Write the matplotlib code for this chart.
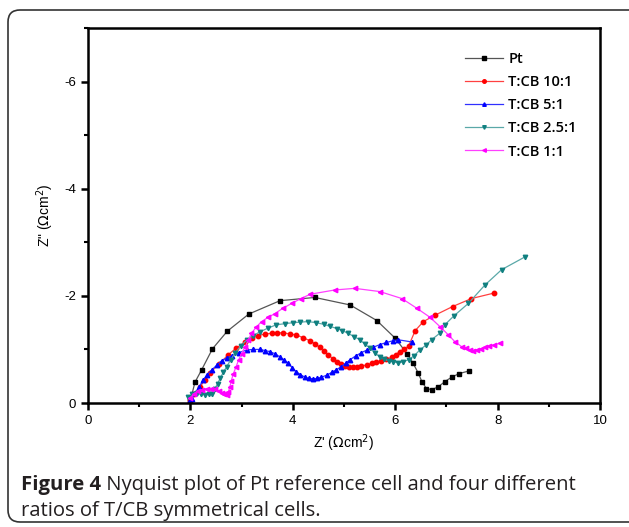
import matplotlib
matplotlib.use('Agg')
import matplotlib.pyplot as plt
from matplotlib.patches import FancyBboxPatch
from matplotlib.ticker import MultipleLocator

# --- data (Z' and -Z'' in Ohm cm^2) ---
pt_x = [2.0, 2.09, 2.22, 2.43, 2.72, 3.14, 3.75, 4.43, 5.12, 5.64, 6.0, 6.24, 6.35,
        6.45, 6.52, 6.61, 6.71, 6.84, 6.97, 7.10, 7.25, 7.45]
pt_y = [0.05, 0.39, 0.62, 1.01, 1.34, 1.66, 1.91, 1.97, 1.83, 1.54, 1.21, 0.91, 0.74,
        0.56, 0.40, 0.27, 0.25, 0.30, 0.40, 0.48, 0.55, 0.60]

r10_x = [2.0, 2.08, 2.19, 2.28, 2.38, 2.56, 2.74, 2.9, 3.07, 3.2, 3.33, 3.46, 3.59, 3.7,
         3.81, 3.94, 4.07, 4.2, 4.34, 4.44, 4.53, 4.61, 4.69, 4.78, 4.86, 4.94, 5.02,
         5.1, 5.18, 5.26, 5.34, 5.44, 5.54, 5.63, 5.73, 5.83, 5.93, 6.01, 6.09, 6.18,
         6.26, 6.39, 6.55, 6.78, 7.12, 7.49, 7.92]
r10_y = [0.05, 0.17, 0.30, 0.43, 0.56, 0.73, 0.90, 1.03, 1.14, 1.21, 1.26, 1.29, 1.30,
         1.31, 1.31, 1.29, 1.27, 1.22, 1.16, 1.10, 1.04, 0.97, 0.90, 0.83, 0.77, 0.72,
         0.69, 0.67, 0.67, 0.67, 0.69, 0.71, 0.74, 0.76, 0.79, 0.82, 0.85, 0.90, 0.96,
         1.01, 1.06, 1.35, 1.52, 1.64, 1.80, 1.95, 2.05]

r5_x = [1.98, 2.03, 2.09, 2.17, 2.25, 2.33, 2.42, 2.52, 2.61, 2.71, 2.81, 2.95, 3.10,
        3.23, 3.36, 3.45, 3.55, 3.65, 3.75, 3.83, 3.91, 3.99, 4.07, 4.15, 4.24, 4.32,
        4.40, 4.48, 4.56, 4.66, 4.76, 4.85, 4.95, 5.03, 5.12, 5.23, 5.34, 5.45, 5.57,
        5.70, 5.83, 5.95, 6.06, 6.32]
r5_y = [0.02, 0.08, 0.18, 0.30, 0.43, 0.53, 0.62, 0.71, 0.79, 0.84, 0.88, 0.94, 0.99,
        1.00, 1.00, 0.98, 0.96, 0.92, 0.86, 0.80, 0.74, 0.66, 0.58, 0.53, 0.48, 0.46,
        0.45, 0.46, 0.48, 0.52, 0.57, 0.62, 0.68, 0.74, 0.81, 0.88, 0.94, 0.99, 1.04,
        1.09, 1.13, 1.16, 1.18, 1.14]

r25_x = [1.96, 2.04, 2.12, 2.2, 2.29, 2.36, 2.42, 2.48, 2.53, 2.58, 2.64, 2.71, 2.79,
         2.87, 2.98, 3.10, 3.23, 3.36, 3.52, 3.68, 3.84, 4.01, 4.15, 4.30, 4.45, 4.60,
         4.73, 4.86, 4.97, 5.08, 5.2, 5.31, 5.41, 5.51, 5.6, 5.70, 5.78, 5.87, 5.96,
         6.06, 6.16, 6.26, 6.37, 6.48, 6.6, 6.71, 6.88, 6.97, 7.14, 7.43, 7.75, 8.08, 8.54]
r25_y = [0.12, 0.16, 0.18, 0.17, 0.15, 0.16, 0.17, 0.27, 0.36, 0.46, 0.57, 0.68, 0.81,
         0.93, 1.06, 1.18, 1.26, 1.33, 1.40, 1.46, 1.48, 1.50, 1.51, 1.52, 1.50, 1.47,
         1.43, 1.39, 1.35, 1.30, 1.24, 1.18, 1.10, 1.02, 0.94, 0.86, 0.82, 0.79, 0.77,
         0.75, 0.77, 0.81, 0.88, 0.99, 1.08, 1.18, 1.31, 1.46, 1.62, 1.86, 2.20, 2.49, 2.73]

r1_x = [1.99, 2.07, 2.15, 2.23, 2.32, 2.40, 2.48, 2.55, 2.61, 2.66, 2.71, 2.74, 2.77,
        2.80, 2.84, 2.89, 2.94, 3.0, 3.07, 3.13, 3.19, 3.29, 3.39, 3.52, 3.65, 3.81,
        3.98, 4.16, 4.34, 4.82, 5.21, 5.70, 6.13, 6.42, 6.68, 6.88, 7.04, 7.17, 7.30,
        7.38, 7.46, 7.52, 7.59, 7.67, 7.75, 7.83, 7.92, 8.05]
r1_y = [0.09, 0.17, 0.23, 0.25, 0.27, 0.27, 0.26, 0.23, 0.19, 0.16, 0.15, 0.20, 0.30,
        0.42, 0.55, 0.67, 0.80, 0.92, 1.05, 1.17, 1.30, 1.42, 1.52, 1.60, 1.67, 1.77,
        1.86, 1.95, 2.03, 2.11, 2.14, 2.08, 1.95, 1.77, 1.60, 1.42, 1.27, 1.14, 1.05,
        1.02, 0.99, 0.98, 0.99, 1.01, 1.04, 1.06, 1.08, 1.12]

labels = ['Pt', 'T:CB 10:1', 'T:CB 5:1', 'T:CB 2.5:1', 'T:CB 1:1']
xs = [pt_x, r10_x, r5_x, r25_x, r1_x]
ys = [pt_y, r10_y, r5_y, r25_y, r1_y]
markers = ['s', 'o', '^', 'v', '<']
mcolors = ['#000000', '#ff0000', '#0000ff', '#108080', '#ff00ff']
lcolors = ['#555555', '#ff4040', '#3030ff', '#5aa8a8', '#ff40ff']

W, H = 629, 527
fig = plt.figure(figsize=(W / 100, H / 100), dpi=100)

# background frame + caption, in pixel coordinates
bg = fig.add_axes([0, 0, 1, 1], zorder=-1)
bg.set_xlim(0, W)
bg.set_ylim(H, 0)
bg.axis('off')
bg.add_patch(FancyBboxPatch((8, 10), 660, 512, boxstyle="round,pad=0,rounding_size=12",
                            linewidth=1.2, edgecolor='#333333', facecolor='white'))
cap_font = 'Open Sans'
cap_size = 14.6
t1 = bg.text(21, 490, 'Figure 4', fontsize=cap_size, fontweight='bold', family=cap_font,
             color='#231f20', va='baseline', ha='left')
bg.annotate(' Nyquist plot of Pt reference cell and four different', xy=(1, 0),
            xycoords=t1, xytext=(0, 0), textcoords='offset points', fontsize=cap_size,
            family=cap_font, color='#231f20', va='bottom', ha='left')
bg.text(21, 516, 'ratios of T/CB symmetrical cells.', fontsize=cap_size, family=cap_font,
        color='#231f20', va='baseline', ha='left')

# main plot
ax = fig.add_axes([88 / W, 1 - 403 / H, 512 / W, 375 / H])
for x, y, lab, m, mc, lc in zip(xs, ys, labels, markers, mcolors, lcolors):
    ax.plot(x, [-v for v in y], color=lc, lw=0.9, marker=m, markersize=3.2,
            markerfacecolor=mc, markeredgecolor=mc, label=lab)

ax.set_xlim(0, 10)
ax.set_ylim(0, -7)
ax.xaxis.set_major_locator(MultipleLocator(2))
ax.xaxis.set_minor_locator(MultipleLocator(1))
ax.yaxis.set_major_locator(MultipleLocator(2))
ax.yaxis.set_minor_locator(MultipleLocator(1))
ax.set_yticks([0, -2, -4, -6])
ax.set_yticklabels(['0', '-2', '-4', '-6'])
for s in ax.spines.values():
    s.set_linewidth(1.8)
ax.tick_params(which='major', direction='out', length=5, width=1.8, labelsize=9.5,
               top=False, right=False)
ax.tick_params(which='minor', direction='out', length=3, width=1.5, top=False, right=False)
for lab in ax.get_xticklabels() + ax.get_yticklabels():
    lab.set_family('Liberation Sans')

ax.set_xlabel("Z' ($\\Omega$cm$^2$)", fontsize=10, family='Liberation Sans', labelpad=4)
ax.set_ylabel('Z" ($\\Omega$cm$^2$)', fontsize=10, family='Liberation Sans', labelpad=6)

leg = ax.legend(loc='upper left', bbox_to_anchor=(0.71, 0.97), frameon=False,
                handlelength=2.6, handletextpad=0.4, labelspacing=0.62, markerscale=0.8,
                prop={'family': 'Open Sans', 'size': 10.5, 'weight': 'semibold'})

fig.savefig('out.png', dpi=100)
